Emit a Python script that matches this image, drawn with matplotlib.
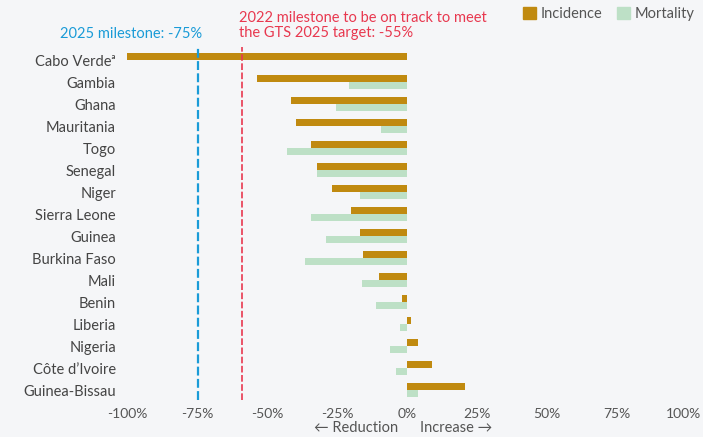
import numpy as np
import matplotlib.pyplot as plt
from matplotlib.patches import Patch
from matplotlib.transforms import blended_transform_factory, ScaledTranslation

plt.rcParams['font.family'] = ['Lato', 'DejaVu Sans']

countries = ['Cabo Verde\u1d43', 'Gambia', 'Ghana', 'Mauritania', 'Togo', 'Senegal',
             'Niger', 'Sierra Leone', 'Guinea', 'Burkina Faso', 'Mali', 'Benin',
             'Liberia', 'Nigeria', 'Côte d\u2019Ivoire', 'Guinea-Bissau']
incidence = [-100, -53.6, -41.4, -39.6, -34.3, -32.1, -26.8, -20.0, -16.8,
             -15.7, -10.0, -1.8, 1.4, 3.9, 8.9, 20.7]
mortality = [0, -20.7, -25.4, -9.3, -42.9, -32.1, -16.8, -34.3, -28.9,
             -36.4, -16.1, -11.1, -2.5, -6.1, -3.9, 3.9]
milestone_2025 = -74.6
milestone_2022 = -59.0

bg = '#f5f6f8'
inc_color = '#c08a10'
mort_color = '#bde0c6'
blue = '#1a9bd7'
red = '#e8384f'

fig = plt.figure(figsize=(7.03, 4.37), dpi=100, facecolor=bg)
ax = fig.add_axes([127 / 703, 37 / 437, 560 / 703, 353 / 437])
ax.set_facecolor(bg)

y = np.arange(len(countries))
h = 0.32
ax.barh(y - h / 2, incidence, height=h, color=inc_color, zorder=2)
ax.barh(y + h / 2, mortality, height=h, color=mort_color, zorder=2)

ax.axvline(milestone_2025, color=blue, ls=(0, (4, 1.5)), lw=1.6, zorder=3)
ax.axvline(milestone_2022, color=red, ls=(0, (4, 1.5)), lw=1.2, zorder=3)

ax.set_xlim(-100, 100)
ax.set_ylim(len(countries) - 0.55, -0.6)
ax.set_yticks(y)
ax.set_yticklabels(countries, fontsize=10.5, color='#444444')
xt = [-100, -75, -50, -25, 0, 25, 50, 75, 100]
ax.set_xticks(xt)
ax.set_xticklabels([f'{v}%' for v in xt], fontsize=10, color='#555555')
ax.tick_params(length=0, pad=6)
ax.tick_params(axis='y', pad=8)
for s in ax.spines.values():
    s.set_visible(False)

# keep the 100% label inside the figure
last = ax.get_xticklabels()[-1]
last.set_transform(last.get_transform() + ScaledTranslation(-4 / 100, 0, fig.dpi_scale_trans))

tr = blended_transform_factory(ax.transData, fig.transFigure)
ax.text(milestone_2025 + 1.5, 1 - 33.5 / 437, '2025 milestone: -75%', color=blue,
        fontsize=10.5, ha='right', va='center', transform=tr)
ax.text(milestone_2022 - 1, 1 - 25.5 / 437,
        '2022 milestone to be on track to meet\nthe GTS 2025 target: -55%',
        color=red, fontsize=10.5, ha='left', va='center', linespacing=1.1, transform=tr)

ax.text(-3, 1 - 428 / 437, '\u2190 Reduction', color='#555555', fontsize=10.5,
        ha='right', va='center', transform=tr)
ax.text(4.5, 1 - 428 / 437, 'Increase \u2192', color='#555555', fontsize=10.5,
        ha='left', va='center', transform=tr)

handles = [Patch(color=inc_color, label='Incidence'), Patch(color=mort_color, label='Mortality')]
fig.legend(handles=handles, loc='center left', bbox_to_anchor=(510 / 703, 1 - 14 / 437),
           ncol=2, frameon=False, fontsize=10.5, handlelength=0.9, handleheight=0.9,
           handletextpad=0.3, columnspacing=1.0, labelcolor='#555555')

fig.savefig('out.png', dpi=100, facecolor=bg)
